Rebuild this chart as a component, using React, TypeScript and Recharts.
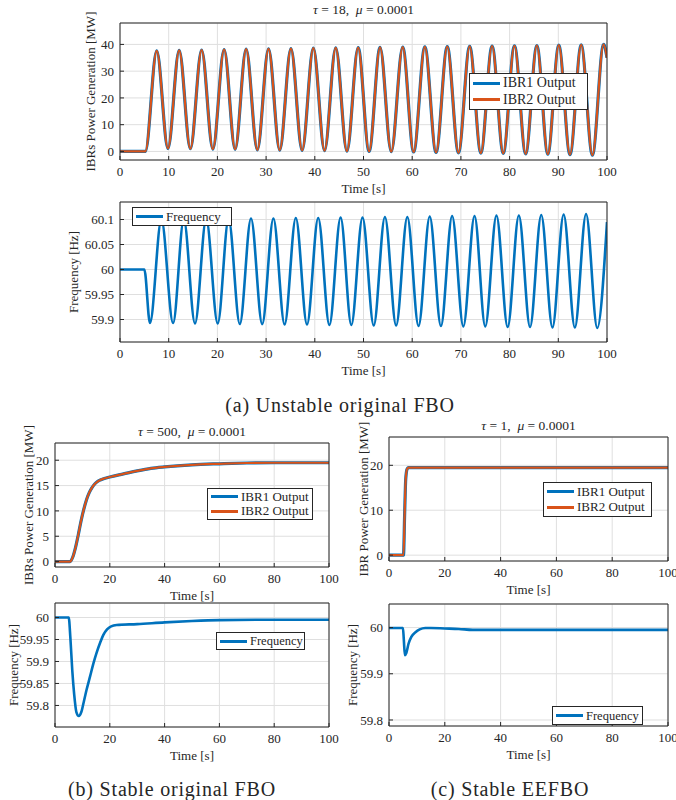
import React from "react";
import { LineChart, Line, XAxis, YAxis, CartesianGrid, Legend } from "recharts";

const FONT = '"Liberation Serif", "Times New Roman", serif';
const INK = "#262626";
const BLUE = "#0072BD";
const ORANGE = "#D95319";
const GRID = "#dfdfdf";

const timeTicks10 = [0, 10, 20, 30, 40, 50, 60, 70, 80, 90, 100];
const timeTicks20 = [0, 20, 40, 60, 80, 100];

// (a) tau = 18 : IBR outputs (flat, then alternating peaks / troughs)
const aPowerTime = [
  0, 5.2, 7.54, 9.85, 12.15, 14.45, 16.76, 19.07, 21.38, 23.64, 25.9, 28.2, 30.5, 32.8,
  35.1, 37.4, 39.7, 42.0, 44.3, 46.6, 48.9, 51.15, 53.4, 55.7, 58.05, 60.3, 62.6, 64.9,
  67.2, 69.5, 71.8, 74.1, 76.4, 78.7, 81.0, 83.3, 85.6, 87.85, 90.1, 92.4, 94.7, 97.0,
  99.3, 100,
];
const aIbr1 = [
  0, 0, 37.6, 1.1, 37.8, 1.0, 37.9, 0.9, 38.1, 0.8, 38.2, 0.6, 38.3, 0.5, 38.4, 0.4, 38.6,
  0.3, 38.7, 0.1, 38.8, 0.0, 38.9, -0.1, 39.0, -0.2, 39.1, -0.4, 39.2, -0.5, 39.3, -0.6,
  39.4, -0.7, 39.5, -0.9, 39.6, -1.0, 39.7, -1.2, 39.8, -1.4, 40.0, 35,
];
const aIbr2 = aIbr1; // the two IBRs overlap exactly

// (a) tau = 18 : frequency
const aFreqTime = [
  0, 5.0, 6.15, 8.5, 10.9, 13.1, 15.4, 17.7, 20.06, 22.3, 24.6, 26.9, 29.2, 31.5, 33.8,
  36.1, 38.4, 40.7, 43.0, 45.3, 47.5, 49.8, 52.1, 54.4, 56.7, 59.0, 61.3, 63.6, 65.9,
  68.2, 70.5, 72.8, 75.0, 77.3, 79.6, 81.9, 84.2, 86.5, 88.8, 91.1, 93.4, 95.7, 98.0, 100,
];
const aFreq = [
  60, 60, 59.893, 60.1, 59.893, 60.1, 59.892, 60.101, 59.892, 60.101, 59.891, 60.102,
  59.891, 60.102, 59.89, 60.103, 59.89, 60.103, 59.889, 60.104, 59.889, 60.104, 59.888,
  60.105, 59.888, 60.105, 59.887, 60.106, 59.887, 60.107, 59.886, 60.107, 59.886, 60.108,
  59.885, 60.108, 59.885, 60.109, 59.884, 60.11, 59.884, 60.111, 59.883, 60.095,
];

// (b) tau = 500
const bPowerTime = [
  0, 5.5, 6.5, 7.5, 8.5, 9.5, 10.5, 11.5, 12.5, 13.5, 14.5, 15.5, 16.5, 18, 20, 25, 30,
  35, 40, 50, 60, 70, 80, 100,
];
const bIbr1 = [
  0, 0, 0.9, 2.8, 5.3, 8.0, 10.3, 12.2, 13.6, 14.6, 15.3, 15.8, 16.1, 16.4, 16.7, 17.3,
  17.9, 18.4, 18.7, 19.1, 19.3, 19.45, 19.5, 19.5,
];
const bIbr2 = bIbr1;
const bFreqTime = [
  0, 5, 5.6, 6.3, 7.0, 7.8, 8.7, 9.6, 10.5, 11.5, 12.8, 14, 15.2, 16.5, 17.6, 19, 20.5,
  22.5, 30, 40, 50, 60, 80, 100,
];
const bFreq = [
  60, 60, 59.955, 59.88, 59.825, 59.785, 59.776, 59.785, 59.808, 59.835, 59.866, 59.895,
  59.92, 59.943, 59.96, 59.973, 59.98, 59.983, 59.985, 59.989, 59.992, 59.994, 59.995,
  59.995,
];

// (c) tau = 1
const cPowerTime = [0, 5.2, 5.6, 6.0, 6.5, 7.0, 100];
const cIbr1 = [0, 0, 9, 17, 19.2, 19.5, 19.5];
const cIbr2 = cIbr1;
const cFreqTime = [0, 5, 5.3, 5.7, 6.2, 7, 8, 9.5, 11, 13, 15, 20, 25, 30, 100];
const cFreq = [
  59.999, 59.999, 59.975, 59.94, 59.945, 59.965, 59.98, 59.99, 59.996, 59.999, 59.999,
  59.998, 59.997, 59.995, 59.995,
];

const powerRows = (t: number[], p1: number[], p2: number[]) =>
  t.map((x, i) => ({ t: x, ibr1: p1[i], ibr2: p2[i] }));
const freqRows = (t: number[], f: number[]) => t.map((x, i) => ({ t: x, freq: f[i] }));

const powerSeries = [
  { key: "ibr1", name: "IBR1 Output", color: BLUE, width: 3.2 },
  { key: "ibr2", name: "IBR2 Output", color: ORANGE, width: 2.2 },
];
const freqSeries = [{ key: "freq", name: "Frequency", color: BLUE, width: 2.6 }];

const LegendBox = ({ payload, w, h, fs }: any) => (
  <div
    style={{
      width: w,
      height: h,
      boxSizing: "border-box",
      border: `1px solid ${INK}`,
      background: "#fff",
      display: "flex",
      flexDirection: "column",
      justifyContent: "space-evenly",
      padding: "0 3px",
      fontFamily: FONT,
      fontSize: fs,
      color: INK,
      whiteSpace: "nowrap",
      overflow: "visible",
    }}
  >
    {(payload || []).map((p: any) => (
      <div key={p.value} style={{ display: "flex", alignItems: "center", lineHeight: "14px" }}>
        <span style={{ width: 27, height: 3, background: p.color, marginRight: 3, flex: "none" }} />
        <span>{p.value}</span>
      </div>
    ))}
  </div>
);

const Panel = ({ geo, data, series, xTicks, yTicks, yDomain, yLabel, legend, title }: any) => {
  const { left, top, w, h, labelX } = geo;
  const chartLeft = labelX - 10;
  const yw = left - chartLeft;
  const mt = 24;
  const mr = 16;
  const xh = 40;
  const fs = 13;
  const tickStyle = { fill: INK, fontSize: fs, fontFamily: FONT };
  return (
    <>
      {title && (
        <div
          style={{
            position: "absolute",
            left,
            width: w,
            top: title.y - 9,
            textAlign: "center",
            fontFamily: FONT,
            fontSize: 13.5,
            color: INK,
            lineHeight: "18px",
            whiteSpace: "nowrap",
          }}
        >
          {title.node}
        </div>
      )}
      <div style={{ position: "absolute", left: chartLeft, top: top - mt }}>
        <LineChart
          width={yw + w + mr}
          height={mt + h + xh}
          data={data}
          margin={{ top: mt, right: mr, bottom: 0, left: 0 }}
        >
          <CartesianGrid stroke={GRID} />
          <XAxis
            dataKey="t"
            type="number"
            domain={[0, 100]}
            allowDataOverflow
            ticks={xTicks}
            interval={0}
            height={xh}
            tickSize={-4}
            tickMargin={11}
            stroke={INK}
            tick={tickStyle}
            label={{ value: "Time [s]", position: "insideBottom", offset: 7, fill: INK, fontSize: fs, fontFamily: FONT }}
          />
          <YAxis
            type="number"
            domain={yDomain}
            allowDataOverflow
            ticks={yTicks}
            interval={0}
            width={yw}
            tickSize={-4}
            tickMargin={10}
            stroke={INK}
            tick={tickStyle}
            label={{
              value: yLabel,
              angle: -90,
              position: "insideLeft",
              offset: 10,
              fill: INK,
              fontSize: fs,
              fontFamily: FONT,
              style: { textAnchor: "middle" },
            }}
          />
          <XAxis
            xAxisId="top"
            orientation="top"
            mirror
            type="number"
            domain={[0, 100]}
            allowDataOverflow
            ticks={xTicks}
            interval={0}
            height={1}
            tickSize={4}
            tick={false}
            stroke={INK}
          />
          <YAxis
            yAxisId="right"
            orientation="right"
            mirror
            type="number"
            domain={yDomain}
            allowDataOverflow
            ticks={yTicks}
            interval={0}
            width={1}
            tickSize={4}
            tick={false}
            stroke={INK}
          />
          {series.map((s: any) => (
            <Line
              key={s.key}
              type="monotone"
              dataKey={s.key}
              name={s.name}
              stroke={s.color}
              strokeWidth={s.width}
              dot={false}
              isAnimationActive={false}
            />
          ))}
          <Legend
            layout="vertical"
            align="center"
            verticalAlign="middle"
            wrapperStyle={{
              left: legend.x - chartLeft,
              top: legend.y - (top - mt),
              width: "auto",
              height: "auto",
            }}
            content={(props: any) => (
              <LegendBox payload={props.payload} w={legend.w} h={legend.h} fs={legend.fs || 13} />
            )}
          />
        </LineChart>
      </div>
    </>
  );
};

const captionStyle = (x: number, y: number): React.CSSProperties => ({
  position: "absolute",
  left: x - 150,
  width: 300,
  top: y - 12,
  textAlign: "center",
  fontFamily: FONT,
  fontSize: 20,
  letterSpacing: 0.8,
  color: INK,
  lineHeight: "24px",
});

const Tau = ({ tau }: { tau: string }) => (
  <span>
    <i>τ</i>&nbsp;=&nbsp;{tau},&nbsp;&nbsp;<i>μ</i>&nbsp;=&nbsp;0.0001
  </span>
);

export default function App() {
  return (
    <div style={{ position: "absolute", left: 0, top: 0, width: 676, height: 800, background: "#fff" }}>
      <Panel
        geo={{ left: 120, top: 23, w: 487, h: 137, labelX: 90 }}
        data={powerRows(aPowerTime, aIbr1, aIbr2)}
        series={powerSeries}
        xTicks={timeTicks10}
        yTicks={[0, 10, 20, 30, 40]}
        yDomain={[-3.2, 48]}
        yLabel="IBRs Power Generation [MW]"
        legend={{ x: 469, y: 73, w: 119, h: 37, fs: 14 }}
        title={{ y: 10, node: <Tau tau="18" /> }}
      />
      <Panel
        geo={{ left: 120, top: 202, w: 487, h: 140, labelX: 73 }}
        data={freqRows(aFreqTime, aFreq)}
        series={freqSeries}
        xTicks={timeTicks10}
        yTicks={[59.9, 59.95, 60, 60.05, 60.1]}
        yDomain={[59.855, 60.135]}
        yLabel="Frequency [Hz]"
        legend={{ x: 132, y: 207, w: 100, h: 19, fs: 13 }}
      />
      <div style={captionStyle(340, 405)}>(a) Unstable original FBO</div>

      <Panel
        geo={{ left: 55, top: 443, w: 274, h: 124, labelX: 28 }}
        data={powerRows(bPowerTime, bIbr1, bIbr2)}
        series={powerSeries}
        xTicks={timeTicks20}
        yTicks={[0, 5, 10, 15, 20]}
        yDomain={[-1.07, 23.4]}
        yLabel="IBRs Power Generation [MW]"
        legend={{ x: 207, y: 488, w: 106, h: 32, fs: 13 }}
        title={{ y: 432, node: <Tau tau="500" /> }}
      />
      <Panel
        geo={{ left: 389, top: 437, w: 279, h: 124, labelX: 363 }}
        data={powerRows(cPowerTime, cIbr1, cIbr2)}
        series={powerSeries}
        xTicks={timeTicks20}
        yTicks={[0, 10, 20]}
        yDomain={[-1.3, 26.3]}
        yLabel="IBR Power Generation [MW]"
        legend={{ x: 543, y: 482, w: 109, h: 35, fs: 13 }}
        title={{ y: 426, node: <Tau tau="1" /> }}
      />
      <Panel
        geo={{ left: 55, top: 603, w: 274, h: 124, labelX: 13 }}
        data={freqRows(bFreqTime, bFreq)}
        series={freqSeries}
        xTicks={timeTicks20}
        yTicks={[59.8, 59.85, 59.9, 59.95, 60]}
        yDomain={[59.751, 60.033]}
        yLabel="Frequency [Hz]"
        legend={{ x: 216, y: 632, w: 89, h: 18, fs: 12.5 }}
      />
      <Panel
        geo={{ left: 389, top: 604, w: 279, h: 122, labelX: 352 }}
        data={freqRows(cFreqTime, cFreq)}
        series={freqSeries}
        xTicks={timeTicks20}
        yTicks={[59.8, 59.9, 60]}
        yDomain={[59.787, 60.051]}
        yLabel="Frequency [Hz]"
        legend={{ x: 552, y: 706, w: 91, h: 19, fs: 12.5 }}
      />
      <div style={captionStyle(172, 789)}>(b) Stable original FBO</div>
      <div style={captionStyle(510, 789)}>(c) Stable EEFBO</div>
    </div>
  );
}
